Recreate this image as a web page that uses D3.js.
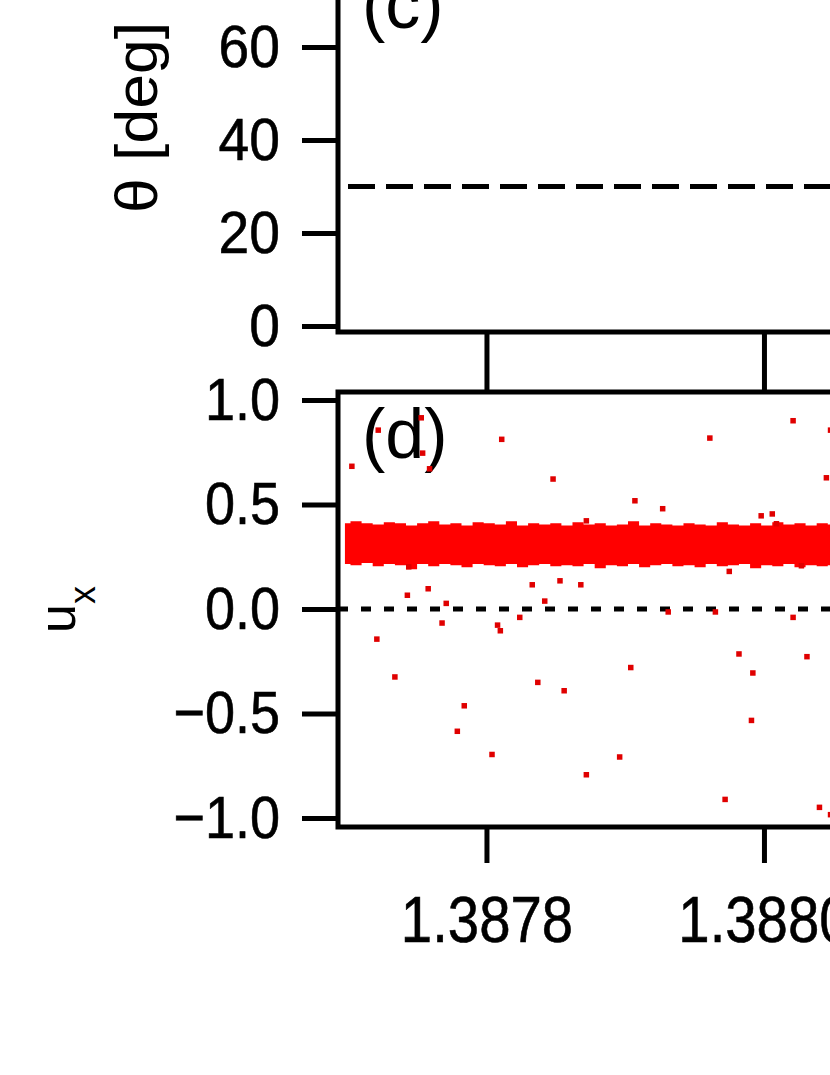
<!DOCTYPE html>
<html><head><meta charset="utf-8">
<script src="https://cdn.jsdelivr.net/npm/d3@7"></script>
<style>html,body{margin:0;padding:0;background:#fff;overflow:hidden}</style>
</head><body><svg id="chart" width="830" height="1075"></svg>
<script>
// ---- data ----
const xTicks = [1.3878, 1.3880];
const thetaTicks = [0, 20, 40, 60];
const uxTicks = [-1.0, -0.5, 0.0, 0.5, 1.0];
const thetaRefLine = 30;
const uxRefLine = 0;
// dense band of u_x samples (envelope)
const bandX = [1.387698,1.387706,1.387714,1.387722,1.387730,1.387738,1.387746,1.387754,1.387762,1.387770,1.387778,1.387786,1.387794,1.387802,1.387810,1.387818,1.387826,1.387834,1.387842,1.387850,1.387858,1.387866,1.387874,1.387882,1.387890,1.387898,1.387906,1.387914,1.387922,1.387930,1.387938,1.387946,1.387954,1.387962,1.387970,1.387978,1.387986,1.387994,1.388002,1.388010,1.388018,1.388026,1.388034,1.388042,1.388050];
const bandTop = [0.41,0.42,0.41,0.405,0.415,0.41,0.40,0.41,0.42,0.405,0.41,0.40,0.415,0.41,0.405,0.42,0.40,0.41,0.405,0.41,0.40,0.415,0.405,0.41,0.40,0.405,0.42,0.40,0.41,0.405,0.40,0.41,0.405,0.40,0.415,0.405,0.40,0.41,0.40,0.415,0.405,0.41,0.40,0.41,0.405];
const bandBot = [0.215,0.21,0.22,0.205,0.215,0.21,0.19,0.215,0.205,0.215,0.21,0.20,0.215,0.21,0.205,0.215,0.20,0.21,0.215,0.205,0.21,0.205,0.215,0.195,0.21,0.205,0.215,0.20,0.21,0.215,0.205,0.21,0.20,0.215,0.205,0.21,0.215,0.195,0.21,0.205,0.215,0.20,0.21,0.205,0.21];
// scattered u_x samples
const outX = [1.387703,1.387722,1.387753,1.387754,1.387759,1.387811,1.387848,1.387758,1.387743,1.387771,1.387833,1.387853,1.387868,1.387842,1.387872,1.387907,1.387927,1.387961,1.388021,1.388045,1.388048,1.387998,1.388006,1.388009,1.387975,1.388027,1.387768,1.387824,1.387808,1.387810,1.387931,1.387965,1.388021,1.387982,1.388031,1.387721,1.387734,1.387784,1.387779,1.387804,1.387837,1.387856,1.387872,1.387904,1.387992,1.387991,1.387896,1.387972,1.388040,1.388048,1.387744];
const outY = [0.683,0.856,0.915,0.746,0.671,0.812,0.622,0.097,0.066,0.027,0.116,0.135,0.116,0.038,0.422,0.518,0.480,0.818,0.901,0.628,0.856,0.446,0.455,0.408,0.180,0.207,-0.067,-0.040,-0.077,-0.104,-0.014,-0.014,-0.040,-0.215,-0.228,-0.144,-0.325,-0.463,-0.585,-0.696,-0.351,-0.391,-0.793,-0.280,-0.306,-0.533,-0.708,-0.911,-0.949,-0.984,0.202];

// ---- layout ----
const FONT = "'Liberation Sans', Arial, sans-serif";
const svg = d3.select("#chart").style("font-family", FONT);
svg.append("rect").attr("width", 830).attr("height", 1075).attr("fill", "#fff");

const x = d3.scaleLinear().domain([1.387693, 1.3881]).range([338, 902.7]);
const yC = d3.scaleLinear().domain([-1.3, 80]).range([332, -46]);
const yD = d3.scaleLinear().domain([-1.043, 1.038]).range([827, 392.1]);
const SW = 5;

function condense(sel, f) {
  sel.each(function () {
    const w = this.getComputedTextLength();
    d3.select(this).attr("textLength", w * f).attr("lengthAdjust", "spacingAndGlyphs");
  });
}
function styleAxis(g, fs) {
  g.select(".domain").remove();
  g.selectAll(".tick line").attr("stroke", "#000").attr("stroke-width", SW);
  g.selectAll(".tick text").attr("fill", "#000").style("font-size", fs + "px").style("font-family", FONT)
    .attr("stroke", "#000").attr("stroke-width", 0.6);
}

// ---- panel (c) ----
const [x0, x1] = x.range();
svg.append("path")
  .attr("d", `M${x0},${yC.range()[1]}V${yC.range()[0]}H${x1}`)
  .attr("fill", "none").attr("stroke", "#000").attr("stroke-width", SW).attr("stroke-linecap", "square");

svg.append("line")
  .attr("x1", x0).attr("x2", x1).attr("y1", yC(thetaRefLine)).attr("y2", yC(thetaRefLine))
  .attr("stroke", "#000").attr("stroke-width", 5).attr("stroke-dasharray", "27,11").attr("stroke-dashoffset", 28);

const gyC = svg.append("g").attr("transform", `translate(${x0},0)`)
  .call(d3.axisLeft(yC).tickValues(thetaTicks).tickSize(36).tickPadding(22).tickFormat(d3.format("d")));
styleAxis(gyC, 60);
condense(gyC.selectAll(".tick text"), 0.92);

const gxC = svg.append("g").attr("transform", `translate(0,${yC.range()[0]})`)
  .call(d3.axisBottom(x).tickValues(xTicks).tickSize(60).tickFormat(""));
styleAxis(gxC, 10);

svg.append("text").attr("x", 362).attr("y", 28).style("font-size", "70px").text("(c)");

svg.append("text")
  .attr("transform", "translate(157,117.5) rotate(-90)")
  .attr("text-anchor", "middle").style("font-size", "60px")
  .attr("textLength", 191).attr("lengthAdjust", "spacingAndGlyphs")
  .text("θ [deg]");

// ---- panel (d) ----
svg.append("defs").append("clipPath").attr("id", "clipD")
  .append("rect").attr("x", x0).attr("y", yD.range()[1]).attr("width", x1 - x0).attr("height", yD.range()[0] - yD.range()[1]);

svg.append("text").attr("x", 362).attr("y", 458).style("font-size", "70px").text("(d)");

svg.append("line")
  .attr("x1", x0).attr("x2", x1).attr("y1", yD(uxRefLine)).attr("y2", yD(uxRefLine))
  .attr("stroke", "#000").attr("stroke-width", 5).attr("stroke-dasharray", "10,13");

const data = svg.append("g").attr("clip-path", "url(#clipD)");
const band = bandX.map((v, i) => ({ x: v, t: bandTop[i], b: bandBot[i] }));
data.append("path").datum(band)
  .attr("d", d3.area().x(d => x(d.x)).y0(d => yD(d.b)).y1(d => yD(d.t)).curve(d3.curveStep))
  .attr("fill", "#ff0000");

const pts = outX.map((v, i) => ({ x: v, y: outY[i] })).filter(d => d.y !== undefined);
data.selectAll("rect.pt").data(pts).enter().append("rect").attr("class", "pt")
  .attr("x", d => x(d.x) - 2.75).attr("y", d => yD(d.y) - 2.75)
  .attr("width", 5.5).attr("height", 5.5).attr("fill", "#e00000");

svg.append("path")
  .attr("d", `M${x1},${yD.range()[1]}H${x0}V${yD.range()[0]}H${x1}`)
  .attr("fill", "none").attr("stroke", "#000").attr("stroke-width", SW).attr("stroke-linecap", "square");

const gyD = svg.append("g").attr("transform", `translate(${x0},0)`)
  .call(d3.axisLeft(yD).tickValues(uxTicks).tickSize(36).tickPadding(22).tickFormat(d3.format(".1f")));
styleAxis(gyD, 60);
condense(gyD.selectAll(".tick text"), 0.9);

const gxD = svg.append("g").attr("transform", `translate(0,${yD.range()[0]})`)
  .call(d3.axisBottom(x).tickValues(xTicks).tickSize(36).tickPadding(34).tickFormat(d3.format(".4f")));
styleAxis(gxD, 64);
condense(gxD.selectAll(".tick text"), 0.88);

const ux = svg.append("text")
  .attr("transform", "translate(75,633) rotate(-90)")
  .attr("text-anchor", "start").style("font-size", "52px");
ux.append("tspan").text("u");
ux.append("tspan").attr("dy", 20).style("font-size", "36px").text("x");
</script>
</body></html>
